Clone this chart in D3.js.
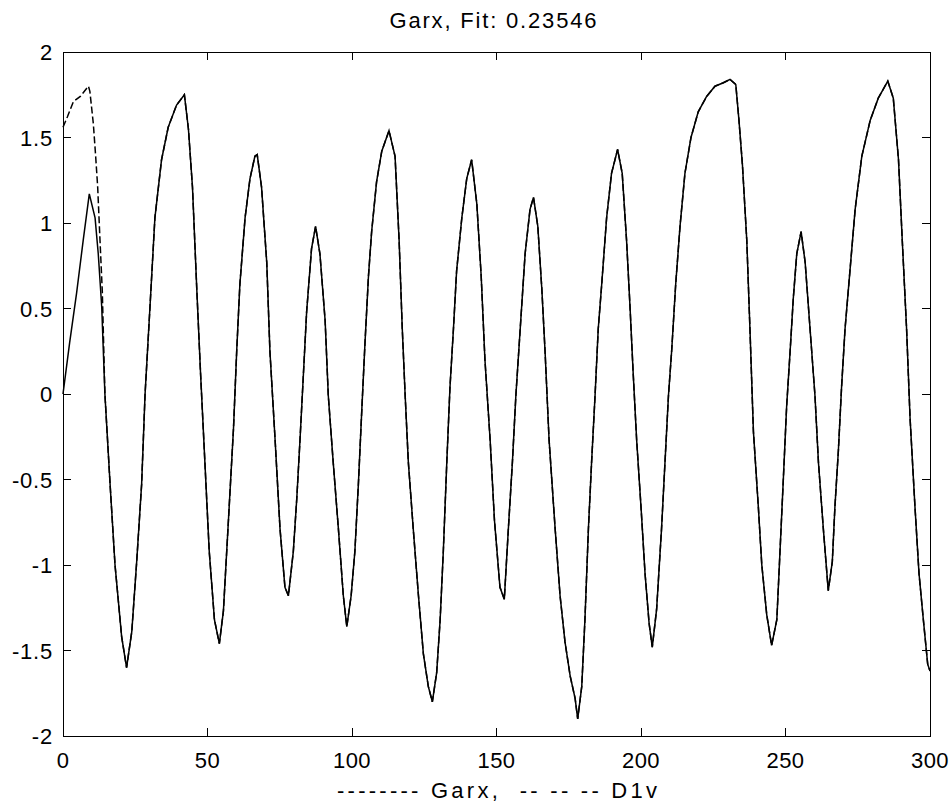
<!DOCTYPE html>
<html>
<head>
<meta charset="utf-8">
<script src="https://cdn.jsdelivr.net/npm/d3@7"></script>
<style>
  body { margin: 0; background: #fff; }
  text { font-family: "Liberation Sans", Arial, sans-serif; font-size: 22px; fill: #000; }
</style>
</head>
<body>
<svg id="chart" width="952" height="807"></svg>
<script>
// start of each series (they differ only for the first ~14 samples)
const garxHeadX = [0, 2.3, 4.7, 7, 9.1, 11.1, 12.2, 13.4];
const garxHeadY = [0, 0.3, 0.59, 0.9, 1.17, 1.03, 0.82, 0.51];
const d1vHeadX = [0, 1.5, 3.6, 6, 8.8, 9.3, 10.5, 11.3, 12, 12.8, 13.6];
const d1vHeadY = [1.56, 1.62, 1.71, 1.74, 1.8, 1.77, 1.58, 1.39, 1.21, 0.9, 0.6];

// shared part, both curves sit on top of each other from here
const tailX = [14.5, 16.3, 18, 20.3, 22, 23.8, 25.5, 27.2, 28.4, 30.1, 31.8, 34.1, 36.4, 39.3, 42,
  43.4, 44.8, 46.3, 47.6, 49.1, 50.6, 52.4, 54.1, 55.5, 57.5, 59, 60.1, 61.2, 63, 64.7, 66.4, 67.2,
  68.7, 70.5, 71.6, 73.4, 75.1, 76.8, 78, 79.7, 80.9, 82, 83.2, 84.3, 86, 87.4, 88.9, 90.7, 91.8,
  93.5, 95.3, 97, 98.2, 99.7, 101, 102.2, 103.4, 104.5, 105.7, 106.8, 108.5, 110.3, 112.8, 114.9,
  116.3, 117.4, 118.4, 119.5, 121.2, 123, 124.7, 126.4, 127.8, 129.3, 130.5, 131.6, 132.8, 133.9,
  135.1, 136.2, 138, 139.7, 141.4, 143.2, 144.7, 146, 147.8, 149.3, 151.2, 152.7, 154.1, 155.5,
  156.7, 158.2, 159.9, 161.6, 162.8, 164.3, 165.7, 166.8, 168.2, 170.3, 172, 173.7, 175.5, 177.2,
  178.1, 179.5, 180.6, 181.8, 182.9, 184.1, 185.2, 186.4, 188.1, 189.8, 191.9, 193.5, 195, 196.2,
  197.3, 198.5, 200, 201.4, 202.8, 203.9, 205.4, 207.1, 208.3, 209.5, 210.6, 212, 213.5, 215.2,
  217.3, 219.8, 222.7, 225.6, 228.5, 230.8, 232.8, 233.9, 235.1, 236.6, 237.7, 238.9, 240.6, 241.8,
  243.5, 245.2, 247, 248.1, 249.3, 250.4, 251.6, 252.7, 253.9, 255.4, 256.8, 258.5, 260.2, 261.4,
  263.1, 264.8, 266.2, 267.1, 268.3, 269.4, 270.6, 272.3, 274.1, 276.4, 279.3, 282.1, 285.4, 287.3,
  289.1, 290.4, 291.9, 293.1, 294.8, 296.2, 297.7, 299.2, 300];
const tailY = [0, -0.53, -1, -1.42, -1.6, -1.39, -0.98, -0.53, 0, 0.51, 1.03, 1.37, 1.56, 1.69, 1.75,
  1.55, 1.21, 0.61, 0.12, -0.4, -0.92, -1.32, -1.46, -1.27, -0.66, -0.2, 0.25, 0.64, 1.03, 1.26, 1.39, 1.4,
  1.21, 0.77, 0.25, -0.27, -0.79, -1.13, -1.18, -0.92, -0.61, -0.27, 0.12, 0.48, 0.85, 0.98, 0.82, 0.43, -0.01,
  -0.4, -0.79, -1.18, -1.36, -1.18, -0.92, -0.53, -0.09, 0.3, 0.69, 0.95, 1.24, 1.42, 1.54, 1.39,
  0.9, 0.38, -0.01, -0.4, -0.79, -1.18, -1.52, -1.71, -1.8, -1.63, -1.32, -0.92, -0.4, 0.04,
  0.38, 0.72, 1.03, 1.26, 1.37, 1.11, 0.69, 0.2, -0.27, -0.74, -1.13, -1.2, -0.79, -0.4,
  -0.01, 0.38, 0.82, 1.08, 1.15, 0.98, 0.61, 0.25, -0.27, -0.79, -1.18, -1.45, -1.65, -1.78,
  -1.9, -1.71, -1.32, -0.79, -0.4, -0.01, 0.38, 0.64, 1.03, 1.29, 1.43, 1.29, 0.9, 0.51,
  0.12, -0.27, -0.66, -1.05, -1.34, -1.48, -1.26, -0.79, -0.4, -0.01, 0.25, 0.64, 0.98, 1.29,
  1.5, 1.65, 1.74, 1.8, 1.82, 1.84, 1.81, 1.6, 1.34, 0.9, 0.38, -0.22, -0.66, -1,
  -1.29, -1.47, -1.32, -0.92, -0.48, -0.07, 0.25, 0.56, 0.82, 0.95, 0.77, 0.38, -0.01, -0.4,
  -0.79, -1.15, -0.98, -0.66, -0.33, 0.04, 0.38, 0.72, 1.08, 1.39, 1.6, 1.73, 1.83, 1.73,
  1.37, 0.9, 0.38, -0.14, -0.66, -1.05, -1.32, -1.58, -1.62];

const xTicks = [0, 50, 100, 150, 200, 250, 300];
const yTicks = [-2, -1.5, -1, -0.5, 0, 0.5, 1, 1.5, 2];
const titleText = 'Garx, Fit: 0.23546';
const xLabelText = '-------- Garx,  -- -- -- D1v';

const svg = d3.select('#chart');
const margin = {left: 63, top: 52, right: 22, bottom: 71};
const width = 952 - margin.left - margin.right;
const height = 807 - margin.top - margin.bottom;

const x = d3.scaleLinear().domain([0, 300]).range([0, width]);
const y = d3.scaleLinear().domain([-2, 2]).range([height, 0]);

const g = svg.append('g').attr('transform', `translate(${margin.left},${margin.top})`);

const zip = (xs, ys) => xs.map((d, i) => [d, ys[i]]);
const garx = zip(garxHeadX, garxHeadY).concat(zip(tailX, tailY));
const d1v = zip(d1vHeadX, d1vHeadY).concat(zip(tailX, tailY));

const line = d3.line().x(d => x(d[0])).y(d => y(d[1]));

g.append('path')
  .datum(garx)
  .attr('d', line)
  .attr('fill', 'none')
  .attr('stroke', '#000')
  .attr('stroke-width', 1.5);

g.append('path')
  .datum(d1v)
  .attr('d', line)
  .attr('fill', 'none')
  .attr('stroke', '#000')
  .attr('stroke-width', 1.5)
  .attr('stroke-dasharray', '7,3');

// box + inward ticks, matlab style
g.append('rect')
  .attr('width', width).attr('height', height)
  .attr('fill', 'none').attr('stroke', '#000').attr('stroke-width', 1)
  .attr('shape-rendering', 'crispEdges');

const ticks = g.append('g').attr('stroke', '#000').attr('stroke-width', 1)
  .attr('shape-rendering', 'crispEdges');
xTicks.forEach(t => {
  ticks.append('line').attr('x1', x(t)).attr('x2', x(t)).attr('y1', height).attr('y2', height - 8);
  ticks.append('line').attr('x1', x(t)).attr('x2', x(t)).attr('y1', 0).attr('y2', 8);
});
yTicks.forEach(t => {
  ticks.append('line').attr('x1', 0).attr('x2', 8).attr('y1', y(t)).attr('y2', y(t));
  ticks.append('line').attr('x1', width).attr('x2', width - 8).attr('y1', y(t)).attr('y2', y(t));
});

g.selectAll('.xlab').data(xTicks).enter().append('text')
  .attr('x', d => x(d)).attr('y', height + 32)
  .attr('text-anchor', 'middle')
  .attr('letter-spacing', 0.5)
  .text(d => d);

g.selectAll('.ylab').data(yTicks).enter().append('text')
  .attr('x', -10).attr('y', d => y(d) + 8)
  .attr('text-anchor', 'end')
  .attr('letter-spacing', 0.8)
  .text(d => d);

svg.append('text')
  .attr('x', 493).attr('y', 28)
  .attr('text-anchor', 'middle')
  .attr('textLength', 207)
  .attr('lengthAdjust', 'spacing')
  .text(titleText);

svg.append('text')
  .attr('x', 497).attr('y', 798)
  .attr('text-anchor', 'middle')
  .attr('textLength', 320)
  .attr('lengthAdjust', 'spacing')
  .style('white-space', 'pre')
  .text(xLabelText);
</script>
</body>
</html>
